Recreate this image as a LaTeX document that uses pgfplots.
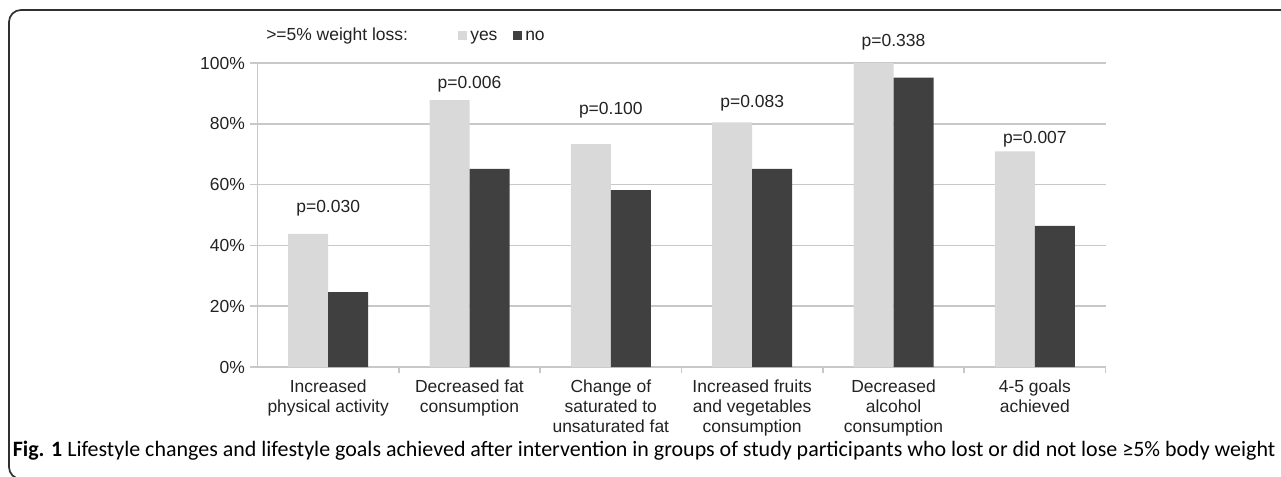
\documentclass[border=0pt]{standalone}
\usepackage{graphicx}
\usepackage{pgfplots}
\pgfplotsset{compat=1.18}
\usepackage{fontspec}
\setmainfont{Liberation Sans}
\newfontfamily\capfont{Carlito}
\definecolor{yesc}{HTML}{D9D9D9}
\definecolor{noc}{HTML}{404040}
\definecolor{gridc}{HTML}{C8C8C8}
\definecolor{txt}{HTML}{222222}
\definecolor{framec}{HTML}{303030}
\newcommand{\chartfont}{\fontsize{13.1pt}{15pt}\selectfont}
\begin{document}
\begin{tikzpicture}[x=0.75pt,y=0.75pt]
\useasboundingbox (0,0) rectangle (1281,476);
\begin{scope}
\clip (0,0) rectangle (1281,476);
\draw[framec, line width=1.3pt, rounded corners=9pt] (9,-3) rectangle (1320,466);
\end{scope}
\begin{axis}[
  at={(193.125pt,81.75pt)}, anchor=south west,
  scale only axis, width=636pt, height=228pt,
  xmin=-0.5, xmax=5.5, ymin=0, ymax=1,
  clip=false,
  axis lines*=left,
  axis line style={draw=gridc, line width=1.1pt},
  ymajorgrids, grid style={draw=gridc, line width=1.1pt},
  ytick={0,0.2,0.4,0.6,0.8,1},
  yticklabels={0\%,20\%,40\%,60\%,80\%,100\%},
  xtick={0,1,2,3,4,5},
  xticklabels={Increased\\physical activity, Decreased fat\\consumption, Change of\\saturated to\\unsaturated fat, Increased fruits\\and vegetables\\consumption, Decreased\\alcohol\\consumption, 4-5 goals\\achieved},
  minor xtick={0.5,1.5,2.5,3.5,4.5,5.5},
  tick align=outside,
  major tick length=6pt,
  minor tick length=4.5pt,
  tick style={draw=gridc, line width=1.1pt},
  major x tick style={draw=none},
  tick label style={font=\chartfont, text=txt},
  xticklabel style={align=center, anchor=north},
  yticklabel style={anchor=east},
]
\addplot[ybar, bar width=0.283, bar shift=-0.1415, fill=yesc, draw=none] coordinates {(0,0.438) (1,0.878) (2,0.733) (3,0.805) (4,1.0) (5,0.709)};
\addplot[ybar, bar width=0.283, bar shift=0.1415, fill=noc, draw=none] coordinates {(0,0.246) (1,0.652) (2,0.582) (3,0.652) (4,0.952) (5,0.464)};
\node[font=\chartfont, text=txt] at (axis cs:0,0.521) {p=0.030};
\node[font=\chartfont, text=txt] at (axis cs:1,0.930) {p=0.006};
\node[font=\chartfont, text=txt] at (axis cs:2,0.844) {p=0.100};
\node[font=\chartfont, text=txt] at (axis cs:3,0.868) {p=0.083};
\node[font=\chartfont, text=txt] at (axis cs:4,1.069) {p=0.338};
\node[font=\chartfont, text=txt] at (axis cs:5,0.748) {p=0.007};
\end{axis}
\node[anchor=base west, inner sep=0pt, font=\chartfont, text=txt] at (266,435) {>=5\% weight loss:};
\fill[yesc] (458,436) rectangle (467,445);
\node[anchor=base west, inner sep=0pt, font=\chartfont, text=txt] at (470,435) {yes};
\fill[noc] (513,436) rectangle (522,445);
\node[anchor=base west, inner sep=0pt, font=\chartfont, text=txt] at (525,435) {no};
\node[anchor=base west, inner sep=0pt] at (12.5,19.5) {\resizebox{947pt}{!}{\capfont\textbf{Fig. 1} Lifestyle changes and lifestyle goals achieved after intervention in groups of study participants who lost or did not lose ≥5\% body weight}};
\end{tikzpicture}
\end{document}
